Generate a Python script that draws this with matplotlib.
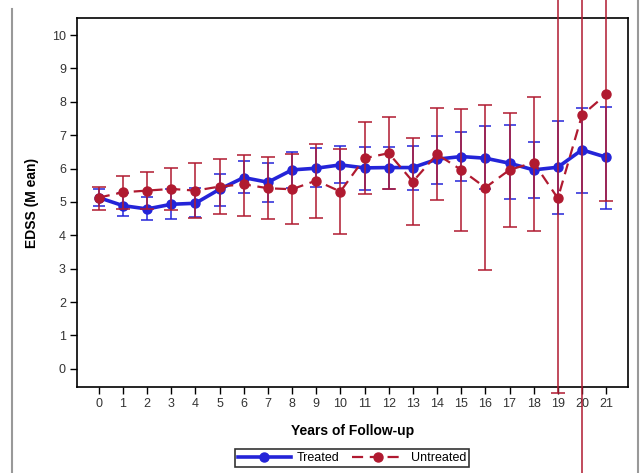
import matplotlib
matplotlib.use("Agg")
import matplotlib.pyplot as plt
from matplotlib.lines import Line2D
import numpy as np

plt.rcParams['font.family'] = ['Liberation Sans', 'DejaVu Sans']

# data
years = list(range(22))

treated_mean = [5.13, 4.89, 4.79, 4.93, 4.96, 5.38, 5.73, 5.59, 5.96, 6.01, 6.11,
                6.02, 6.03, 6.03, 6.28, 6.36, 6.31, 6.16, 5.96, 6.04, 6.56, 6.34]
treated_lo = [4.89, 4.58, 4.46, 4.49, 4.55, 4.89, 5.26, 4.99, 5.42, 5.44, 5.56,
              5.36, 5.38, 5.36, 5.54, 5.63, 5.40, 5.08, 5.11, 4.63, 5.28, 4.80]
treated_hi = [5.38, 5.26, 5.16, 5.40, 5.41, 5.84, 6.24, 6.18, 6.49, 6.61, 6.69,
              6.66, 6.66, 6.69, 6.98, 7.08, 7.26, 7.29, 6.81, 7.43, 7.81, 7.85]

untreated_mean = [5.13, 5.29, 5.34, 5.39, 5.34, 5.46, 5.53, 5.41, 5.38, 5.64, 5.31,
                  6.31, 6.46, 5.61, 6.43, 5.96, 5.43, 5.96, 6.18, 5.11, 7.60, 8.22]
untreated_lo = [4.76, 4.80, 4.80, 4.77, 4.51, 4.64, 4.58, 4.49, 4.34, 4.51, 4.03,
                5.24, 5.38, 4.31, 5.06, 4.13, 2.96, 4.26, 4.13, -0.71, -4.0, 5.04]
untreated_hi = [5.44, 5.79, 5.89, 6.01, 6.16, 6.28, 6.41, 6.36, 6.44, 6.73, 6.59,
                7.39, 7.55, 6.91, 7.81, 7.78, 7.90, 7.66, 8.15, 11.5, 11.5, 11.5]

blue = '#2424d8'
red = '#b01a30'

fig = plt.figure(figsize=(6.44, 4.73), dpi=100)
ax = fig.add_axes([0.1196, 0.182, 0.8554, 0.780])

t_mean = np.array(treated_mean)
t_err = [t_mean - np.array(treated_lo), np.array(treated_hi) - t_mean]
u_mean = np.array(untreated_mean)
u_err = [u_mean - np.array(untreated_lo), np.array(untreated_hi) - u_mean]

ax.errorbar(years, t_mean, yerr=t_err, color=blue, ecolor=blue, lw=2.6,
            elinewidth=1.1, capsize=4.5, capthick=1.1, marker='o', ms=6.5,
            zorder=3, clip_on=False)
ax.errorbar(years, u_mean, yerr=u_err, color=red, ecolor=red, lw=1.6,
            ls=(0, (5, 3)), elinewidth=1.1, capsize=5, capthick=1.1,
            marker='o', ms=6.5, zorder=4, clip_on=False)

ax.set_xlim(-0.9, 21.9)
ax.set_ylim(-0.54, 10.51)
ax.set_xticks(years)
ax.set_yticks(range(11))
ax.tick_params(direction='out', length=5, width=1, labelsize=9,
               labelcolor='#333333', pad=3)
for s in ax.spines.values():
    s.set_linewidth(1.2)

ax.set_xlabel('Years of Follow-up', fontsize=10, fontweight='bold', labelpad=10)
ax.set_ylabel('EDSS (M ean)', fontsize=10, fontweight='bold', labelpad=9)

handles = [
    Line2D([], [], color=blue, lw=2.6, marker='o', ms=6.5),
    Line2D([], [], color=red, lw=1.6, ls=(0, (5, 3)), marker='o', ms=6.5),
]
leg = fig.legend(handles, ['Treated', 'Untreated'], loc='center',
                 bbox_to_anchor=(0.547, 0.031), ncol=2, fontsize=9,
                 frameon=True, fancybox=False, handlelength=4.2,
                 borderpad=0.25, columnspacing=1.0, handletextpad=0.5)
leg.get_frame().set_edgecolor('black')
leg.get_frame().set_linewidth(1.2)

# page borders left and right
fig.add_artist(Line2D([12 / 644, 12 / 644], [0, 1 - 9 / 473], color='#999999', lw=1.5))
fig.add_artist(Line2D([638 / 644, 638 / 644], [0, 1], color='#999999', lw=1.5))

fig.savefig('out.png', dpi=100)
